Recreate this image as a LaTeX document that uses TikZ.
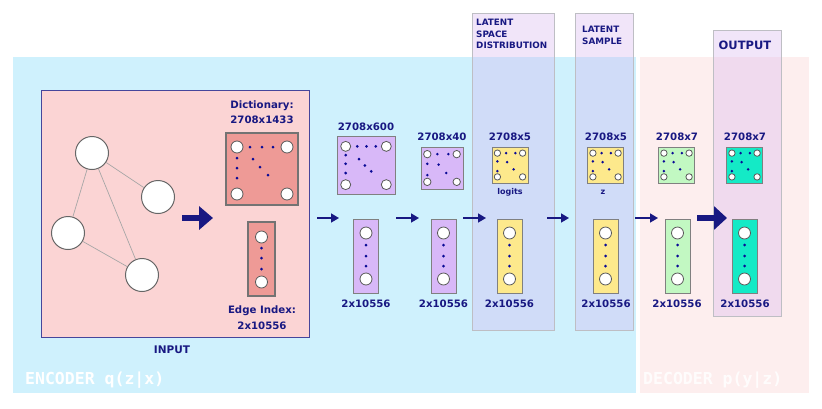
\documentclass[tikz,border=0pt]{standalone}
\usepackage{fontspec}
\setmainfont{DejaVu Sans}
\newfontfamily\monofont{DejaVu Sans Mono}
\usetikzlibrary{arrows.meta,calc}
\definecolor{navy}{RGB}{24,24,130}
\definecolor{dotblue}{RGB}{10,10,150}
\definecolor{encblue}{RGB}{207,241,253}
\definecolor{decpink}{RGB}{253,238,238}
\definecolor{inpink}{RGB}{251,212,212}
\definecolor{salmon}{RGB}{238,154,150}
\definecolor{lilac}{RGB}{216,184,248}
\definecolor{lyellow}{RGB}{253,233,140}
\definecolor{lgreen}{RGB}{194,248,194}
\definecolor{tealc}{RGB}{20,234,198}
\definecolor{colfill}{RGB}{211,172,238}
\definecolor{boxgray}{RGB}{128,128,128}
\definecolor{colgray}{RGB}{190,190,196}
\tikzset{
  lbl/.style={text=navy, font=\bfseries\fontsize{10.2}{15.5}\selectfont, inner sep=0pt, align=center},
  small/.style={text=navy, font=\bfseries\fontsize{8}{9}\selectfont, inner sep=0pt},
  coltext/.style={text=navy, font=\bfseries\fontsize{8.8}{11.5}\selectfont, inner sep=0pt, align=left, anchor=north west},
  bigtext/.style={text=white, font=\monofont\bfseries\fontsize{16.5}{18}\selectfont, inner sep=0pt, anchor=west},
  mbox/.style={draw=boxgray, line width=0.8pt, inner sep=0pt, rectangle},
  cdot/.style={draw=black!65, fill=white, line width=0.8pt},
  column/.style={draw=colgray, line width=0.8pt, fill=colfill, fill opacity=0.3},
  thinarrow/.style={draw=navy, line width=1.6pt, -{Triangle[length=8pt,width=9pt]}},
  bigarrow/.style={draw=navy, line width=6.5pt, -{Triangle[length=14pt,width=23pt]}},
  gnode/.style={circle, draw=black!60, fill=white, line width=1pt, minimum size=33pt, inner sep=0pt},
  gedge/.style={draw=black!35, line width=0.7pt},
}
% name, cx, cy, size, fill, radius, ndots
\newcommand\matbox[7]{%
  \node[mbox,fill=#5,minimum width=#4,minimum height=#4] (#1) at (#2,#3) {};
  \begin{scope}[shift={(#2,#3)}]
    \foreach \sx in {-1,1}{\foreach \sy in {-1,1}{%
      \draw[cdot] ({\sx*0.35*#4},{\sy*0.33*#4}) circle (#6);}}
    \ifnum#7=3
      \foreach \p/\q in {-0.15/-0.33, 0.01/-0.33, 0.17/-0.33, -0.35/-0.18, -0.35/-0.03, -0.35/0.13, -0.12/-0.11, -0.02/0.0, 0.09/0.1}
        {\fill[dotblue] ({\p*#4},{\q*#4}) circle (1.5pt);}
    \else
      \foreach \p/\q in {-0.11/-0.33, 0.15/-0.33, -0.35/-0.1, -0.35/0.17, -0.08/-0.08, 0.1/0.12}
        {\fill[dotblue] ({\p*#4},{\q*#4}) circle (1.4pt);}
    \fi
  \end{scope}}
% name, cx, cy, width, fill
\newcommand\vecbox[5]{%
  \node[mbox,fill=#5,minimum width=#4,minimum height=74] (#1) at (#2,#3) {};
  \draw[cdot] (#2,#3-23) circle (6pt);
  \draw[cdot] (#2,#3+23) circle (6pt);
  \foreach \q in {-11,0,10}{\fill[dotblue] (#2,#3+\q) circle (1.5pt);}}
\begin{document}
\begin{tikzpicture}[x=1pt,y=-1pt]
\useasboundingbox[fill=white] (0,0) rectangle (822,408);
% backgrounds
\fill[encblue] (13,57) rectangle (636,393);
\fill[decpink] (640,57) rectangle (809,393);
\node[bigtext] (enc) at (25,380) {ENCODER q(z|x)};
\node[bigtext, text opacity=0.85] (dec) at (643,380) {DECODER p(y|z)};
% columns
\draw[column] (472,13) rectangle (554,330);
\draw[column] (575,13) rectangle (633,330);
\draw[column] (713,30) rectangle (781,316);
\node[coltext] (lsd) at (476,19) {LATENT\\SPACE\\DISTRIBUTION};
\node[coltext] (ls) at (582,26) {LATENT\\SAMPLE};
\node[lbl, font=\bfseries\fontsize{11.5}{12}\selectfont] (out) at (745,45) {OUTPUT};
% input box
\draw[draw=navy!80, fill=inpink, line width=0.7pt] (41,90) rectangle (309,337);
\node[lbl, font=\bfseries\fontsize{10.5}{12}\selectfont] (inlbl) at (172,350) {INPUT};
% graph
\node[gnode] (g1) at (92,153) {};
\node[gnode] (g2) at (158,197) {};
\node[gnode] (g3) at (68,233) {};
\node[gnode] (g4) at (142,275) {};
\draw[gedge] (g1) -- (g2);
\draw[gedge] (g1) -- (g3);
\draw[gedge] (g1) -- (g4);
\draw[gedge] (g3) -- (g4);
\coordinate (a0s) at (182,218); \coordinate (a0e) at (213,218);
\draw[bigarrow] (a0s) -- (a0e);
% dictionary
\node[lbl] (dictlbl) at (262,112) {Dictionary:\\2708x1433};
\node[mbox,fill=salmon,minimum width=72,minimum height=72,line width=1.5pt,draw=black!55] (dict) at (262,169) {};
\foreach \sx/\sy in {237/147,287/147,237/194,287/194}{\draw[cdot] (\sx,\sy) circle (6pt);}
\foreach \p/\q in {250/147,262/147,273/147,237/158,237/168,237/178,253/159,260/167,268/175}{\fill[dotblue] (\p,\q) circle (1.5pt);}
% edge index
\node[mbox,fill=salmon,minimum width=27,minimum height=74,line width=1.5pt,draw=black!55] (edge) at (261.5,259) {};
\draw[cdot] (261.5,237) circle (6pt);
\draw[cdot] (261.5,282) circle (6pt);
\foreach \q in {248,258,269}{\fill[dotblue] (261.5,\q) circle (1.5pt);}
\node[lbl] (edgelbl) at (262,317.5) {Edge Index:\\2x10556};
% layers
\node[lbl] (t1) at (366,127) {2708x600};
\matbox{m1}{366}{165.5}{58}{lilac}{5pt}{3}
\vecbox{v1}{366}{256}{25}{lilac}
\node[lbl] (b1) at (366,304) {2x10556};

\node[lbl] (t2) at (442,137) {2708x40};
\matbox{m2}{442}{168}{42}{lilac}{3.7pt}{2}
\vecbox{v2}{443.5}{256}{25}{lilac}
\node[lbl] (b2) at (443.5,304) {2x10556};

\node[lbl] (t3) at (510,137) {2708x5};
\matbox{m3}{510}{165}{36}{lyellow}{3.2pt}{2}
\node[small] (logits) at (510,192) {logits};
\vecbox{v3}{509.5}{256}{25}{lyellow}
\node[lbl] (b3) at (509.5,304) {2x10556};

\node[lbl] (t4) at (606,137) {2708x5};
\matbox{m4}{605.5}{165}{36}{lyellow}{3.2pt}{2}
\node[small] (zl) at (603,192) {z};
\vecbox{v4}{605.5}{256}{25}{lyellow}
\node[lbl] (b4) at (606,304) {2x10556};

\node[lbl] (t5) at (677,137) {2708x7};
\matbox{m5}{676.5}{165}{36}{lgreen}{3.2pt}{2}
\vecbox{v5}{677.5}{256}{25}{lgreen}
\node[lbl] (b5) at (677,304) {2x10556};

\node[lbl] (t6) at (745,137) {2708x7};
\matbox{m6}{744.5}{165}{36}{tealc}{3.2pt}{2}
\vecbox{v6}{744.5}{256}{25}{tealc}
\node[lbl] (b6) at (745,304) {2x10556};
% arrows
\coordinate (a1s) at (317,218); \coordinate (a1e) at (339,218);
\coordinate (a2s) at (396,218); \coordinate (a2e) at (419,218);
\coordinate (a3s) at (463,218); \coordinate (a3e) at (486,218);
\coordinate (a4s) at (547,218); \coordinate (a4e) at (569,218);
\coordinate (a5s) at (635,218); \coordinate (a5e) at (658,218);
\coordinate (a6s) at (697,218); \coordinate (a6e) at (727,218);
\draw[thinarrow] (a1s) -- (a1e);
\draw[thinarrow] (a2s) -- (a2e);
\draw[thinarrow] (a3s) -- (a3e);
\draw[thinarrow] (a4s) -- (a4e);
\draw[thinarrow] (a5s) -- (a5e);
\draw[bigarrow, line width=5.5pt, -{Triangle[length=13pt,width=23pt]}] (a6s) -- (a6e);
\end{tikzpicture}
\end{document}
